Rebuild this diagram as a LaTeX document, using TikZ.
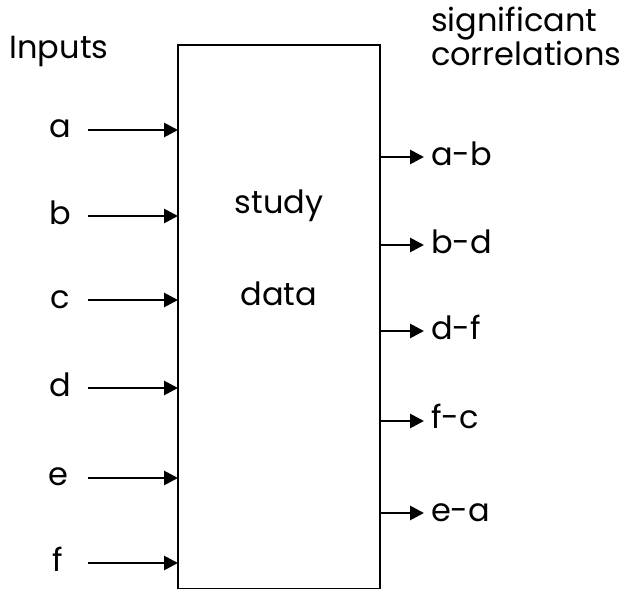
\documentclass[tikz,border=0pt]{standalone}
\usepackage{fontspec}
\setmainfont{Poppins}
\usetikzlibrary{arrows.meta}

\begin{document}
\begin{tikzpicture}[x=0.5pt, y=-0.5pt, font=\fontsize{16}{17}\selectfont,
  conn/.style={line width=1.4pt, -{Triangle[length=7pt,width=7pt]}}]
\useasboundingbox (0,0) rectangle (623,589);
\draw[line width=1.4pt] (178,45) rectangle (380,589); % the study block
\node (study) at (279,206) {study};
\node (data) at (279,294) {data};
\node[anchor=base] (inputs) at (59,59) {Inputs};
\node[anchor=base west] (sig) at (424,32) {significant};
\node[anchor=base west] (corr) at (424,66) {correlations};
% inputs on the left
\node[anchor=base] (a) at (60,138) {a};
\node[anchor=base] (b) at (60,224) {b};
\node[anchor=base] (c) at (60,308) {c};
\node[anchor=base] (d) at (60,396) {d};
\node[anchor=base] (e) at (58,486) {e};
\node[anchor=base] (f) at (58,571) {f};
\foreach \n/\y in {a/130,b/216,c/300,d/388,e/478,f/563}
  \draw[conn] (88,\y) -- (178,\y);
% correlations on the right
\node[anchor=base west] (ab) at (424,165) {a-b};
\node[anchor=base west] (bd) at (424,253) {b-d};
\node[anchor=base west] (df) at (424,339) {d-f};
\node[anchor=base west] (fc) at (424,429) {f-c};
\node[anchor=base west] (ea) at (424,521) {e-a};
\foreach \n/\y in {ab/157,bd/245,df/331,fc/421,ea/513}
  \draw[conn] (380,\y) -- (\n.west |- 0,\y);
\end{tikzpicture}
\end{document}
